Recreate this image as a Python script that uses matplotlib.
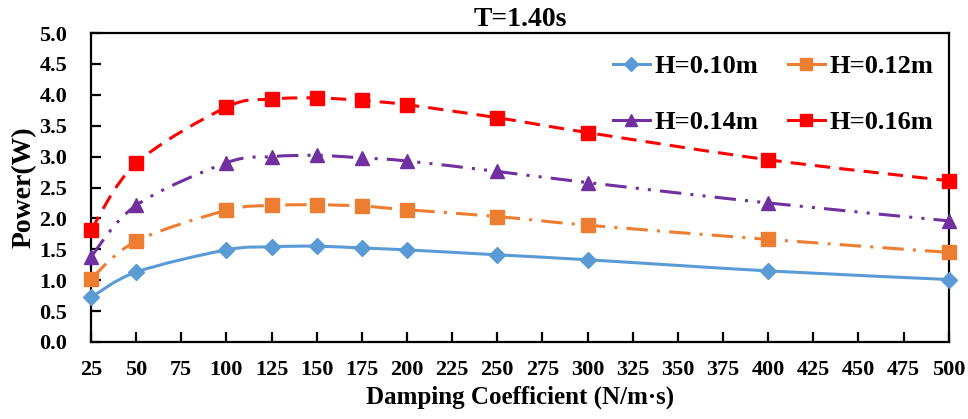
import numpy as np
import matplotlib
matplotlib.use("Agg")
import matplotlib.pyplot as plt
from matplotlib.path import Path
from matplotlib.patches import PathPatch
from matplotlib.lines import Line2D

# data
damping = [25, 50, 100, 125, 150, 175, 200, 250, 300, 400, 500]
h010 = [0.72, 1.13, 1.49, 1.54, 1.55, 1.52, 1.49, 1.41, 1.33, 1.15, 1.01]
h012 = [1.02, 1.63, 2.13, 2.21, 2.22, 2.20, 2.14, 2.03, 1.89, 1.66, 1.45]
h014 = [1.38, 2.21, 2.90, 3.00, 3.02, 2.98, 2.93, 2.76, 2.58, 2.25, 1.96]
h016 = [1.81, 2.89, 3.80, 3.93, 3.95, 3.91, 3.84, 3.63, 3.39, 2.95, 2.61]
labels = ["H=0.10m", "H=0.12m", "H=0.14m", "H=0.16m"]

colors = ["#5B9BD5", "#ED7D31", "#7030A0", "#FF0000"]
markers = ["D", "s", "^", "s"]
msizes = [8.5, 10, 10, 10.5]
dashes = ["-", (0, (7, 3, 1, 3)), (0, (7, 3, 1, 3, 1, 3)), (0, (5, 3))]

plt.rcParams["font.family"] = ["Liberation Serif", "DejaVu Serif"]
plt.rcParams["font.weight"] = "bold"


def smooth_path(xs, ys):
    # excel-like smoothed line: cubic bezier through every point
    p = np.column_stack([xs, ys]).astype(float)
    n = len(p)
    verts = [p[0]]
    codes = [Path.MOVETO]
    for i in range(n - 1):
        p0 = p[i - 1] if i > 0 else p[i]
        p3 = p[i + 2] if i + 2 < n else p[i + 1]
        c1 = p[i] + (p[i + 1] - p0) / 6.0
        c2 = p[i + 1] - (p3 - p[i]) / 6.0
        verts += [c1, c2, p[i + 1]]
        codes += [Path.CURVE4] * 3
    return Path(verts, codes)


fig = plt.figure(figsize=(9.68, 4.19), dpi=100)
ax = fig.add_axes([0.094, 0.184, 0.886, 0.737])

handles = []
for ys, c, m, ms, ls, lab in zip([h010, h012, h014, h016], colors, markers, msizes, dashes, labels):
    patch = PathPatch(smooth_path(damping, ys), facecolor="none", edgecolor=c,
                      linewidth=2.2, linestyle=ls, zorder=2)
    ax.add_patch(patch)
    ax.plot(damping, ys, linestyle="none", marker=m, markersize=ms, color=c,
            clip_on=False, zorder=3)
    handles.append(Line2D([], [], color=c, linewidth=2.2, linestyle="-", marker=m,
                          markersize=ms * 0.8))

ax.set_xlim(25, 500)
ax.set_ylim(0, 5.0)
ax.set_xticks(np.arange(25, 501, 25))
ax.set_yticks(np.arange(0, 5.01, 0.5))
ax.set_yticklabels([f"{v:.1f}" for v in np.arange(0, 5.01, 0.5)])

ax.tick_params(direction="in", length=7, width=1.6, labelsize=16, colors="black")
ax.tick_params(axis="y", pad=17)
ax.tick_params(axis="x", pad=13)
for s in ax.spines.values():
    s.set_linewidth(1.6)
    s.set_color("black")

ax.set_xlabel("Damping Coefficient (N/m·s)", fontsize=18, fontweight="bold", labelpad=4)
ax.set_ylabel("Power(W)", fontsize=20, fontweight="bold", labelpad=2)
ax.set_title("T=1.40s", fontsize=20, fontweight="bold", pad=5)

# legend fills column-wise, so reorder to get 0.10/0.12 on the first row
order = [0, 2, 1, 3]
ax.legend([handles[i] for i in order], [labels[i] for i in order], ncol=2,
          loc="upper right", bbox_to_anchor=(0.995, 0.965),
          frameon=False, fontsize=19, handlelength=1.4, handletextpad=0.2,
          columnspacing=1.1, labelspacing=1.25, borderaxespad=0)

fig.savefig("out.png", dpi=100)
